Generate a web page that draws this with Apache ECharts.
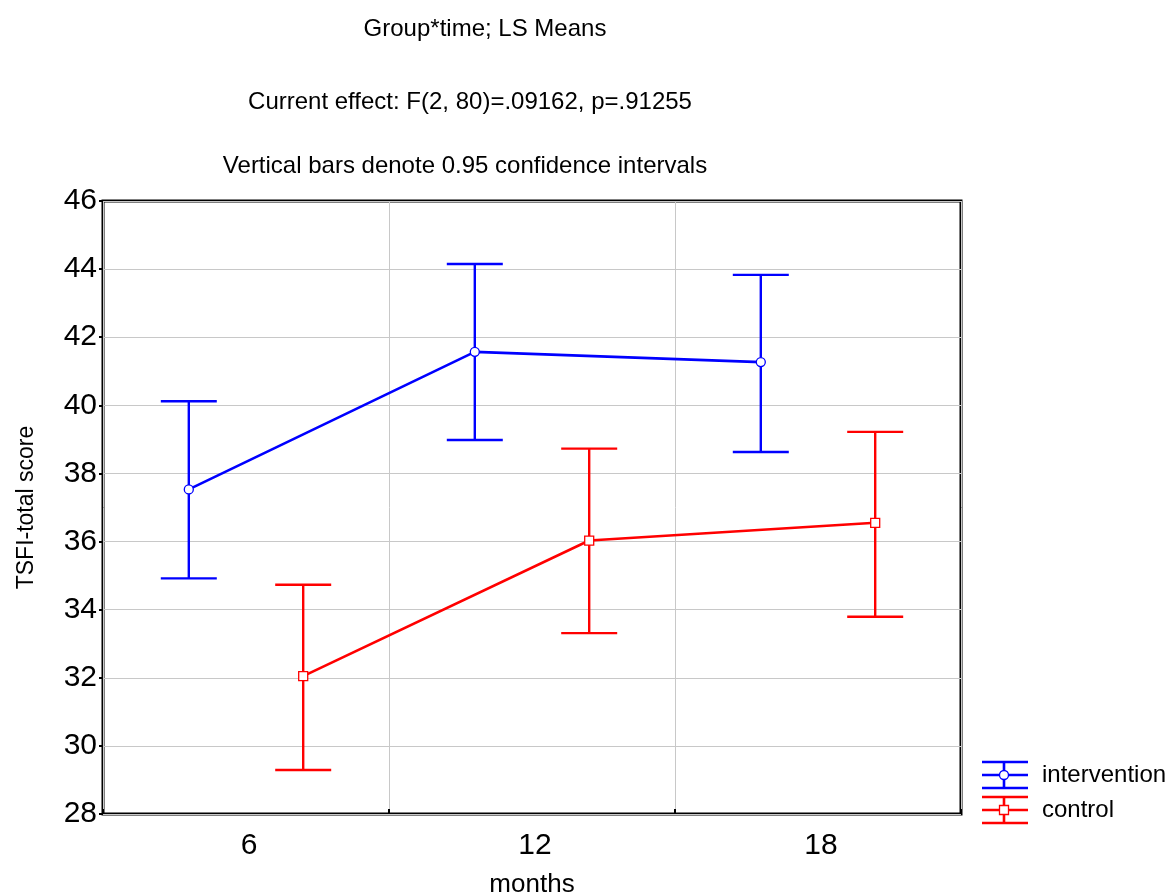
<!DOCTYPE html>
<html>
<head>
<meta charset="utf-8">
<script src="https://cdn.jsdelivr.net/npm/echarts@6/dist/echarts.min.js"></script>
<style>
  html, body { margin: 0; padding: 0; background: #fff; }
  #chart { width: 1175px; height: 893px; }
</style>
</head>
<body>
<div id="chart"></div>
<script>
// LS means with 0.95 confidence intervals, by group and time point
const months = ['6', '12', '18'];
const interventionMean = [37.53, 41.57, 41.27];
const interventionLow  = [34.92, 38.98, 38.63];
const interventionHigh = [40.12, 44.15, 43.83];
const controlMean = [32.05, 36.03, 36.55];
const controlLow  = [29.29, 33.31, 33.79];
const controlHigh = [34.73, 38.73, 39.22];
const yTicks = { min: 28, max: 46, step: 2 };

const FONT = '"Liberation Sans", Arial, sans-serif';
const BLUE = '#0000ff';
const RED = '#ff0000';
// horizontal dodge of each group inside its month slot
const dodge = { intervention: 0.30, control: 0.70 };

function points(mean, offset) {
  return mean.map((v, i) => [i + offset, v]);
}
function bars(low, high, offset) {
  return low.map((v, i) => [i + offset, v, high[i]]);
}

function errorBarRenderer(color) {
  return function (params, api) {
    const x = api.value(0);
    const lo = api.coord([x, api.value(1)]);
    const hi = api.coord([x, api.value(2)]);
    const hw = 28;
    const style = { stroke: color, lineWidth: 2.4, fill: null };
    return {
      type: 'group',
      children: [
        { type: 'line', shape: { x1: lo[0], y1: lo[1], x2: hi[0], y2: hi[1] }, style },
        { type: 'line', shape: { x1: lo[0] - hw, y1: lo[1], x2: lo[0] + hw, y2: lo[1] }, style },
        { type: 'line', shape: { x1: hi[0] - hw, y1: hi[1], x2: hi[0] + hw, y2: hi[1] }, style }
      ]
    };
  };
}

// legend: error-bar glyph + marker + label
function legendItem(y, color, marker, label) {
  const x0 = 982, x1 = 1028, xm = 1004, d = 13;
  const st = { stroke: color, lineWidth: 2.6 };
  const mk = marker === 'circle'
    ? { type: 'circle', shape: { cx: xm, cy: y, r: 4.5 }, style: { fill: '#fff', stroke: color, lineWidth: 1.3 } }
    : { type: 'rect', shape: { x: xm - 4.5, y: y - 4.5, width: 9, height: 9 }, style: { fill: '#fff', stroke: color, lineWidth: 1.3 } };
  return [
    { type: 'line', shape: { x1: x0, y1: y - d, x2: x1, y2: y - d }, style: st },
    { type: 'line', shape: { x1: x0, y1: y, x2: x1, y2: y }, style: st },
    { type: 'line', shape: { x1: x0, y1: y + d, x2: x1, y2: y + d }, style: st },
    { type: 'line', shape: { x1: xm, y1: y - d, x2: xm, y2: y + d }, style: st },
    mk,
    { type: 'text', style: { x: 1042, y: y, text: label, font: '24px ' + FONT, fill: '#000', textVerticalAlign: 'middle' } }
  ];
}

const titleStyle = { fontFamily: FONT, fontSize: 24, fontWeight: 'normal', color: '#000' };

const chart = echarts.init(document.getElementById('chart'), null, { renderer: 'canvas' });
chart.setOption({
  backgroundColor: '#fff',
  animation: false,
  title: [
    { text: 'Group*time; LS Means', left: 480, top: 12, textAlign: 'center', textStyle: titleStyle },
    { text: 'Current effect: F(2, 80)=.09162, p=.91255', left: 465, top: 85, textAlign: 'center', textStyle: titleStyle },
    { text: 'Vertical bars denote 0.95 confidence intervals', left: 460, top: 149, textAlign: 'center', textStyle: titleStyle }
  ],
  grid: {
    left: 103, right: 214, top: 201, bottom: 79,
    outerBoundsMode: 'none', containLabel: false,
    show: true, borderColor: '#000', borderWidth: 3, backgroundColor: 'transparent'
  },
  xAxis: [
    {
      type: 'category',
      data: months,
      boundaryGap: true,
      name: 'months',
      nameLocation: 'middle',
      nameGap: 58,
      nameTextStyle: { fontFamily: FONT, fontSize: 26, color: '#000' },
      axisLine: { show: false },
      axisTick: { show: true, inside: true, length: 5, lineStyle: { color: '#000', width: 2 } },
      axisLabel: { fontFamily: FONT, fontSize: 30, color: '#000', margin: 17, padding: [0, 0, 0, 6] },
      splitLine: { show: true, lineStyle: { color: '#c8c8c8', width: 1 } }
    },
    { type: 'value', min: 0, max: 3, show: false }
  ],
  yAxis: {
    type: 'value',
    min: yTicks.min,
    max: yTicks.max,
    interval: yTicks.step,
    name: 'TSFI-total score',
    nameLocation: 'middle',
    nameGap: 65,
    nameTextStyle: { fontFamily: FONT, fontSize: 23, color: '#000' },
    axisLine: { show: false },
    axisTick: { show: true, length: 4, lineStyle: { color: '#000', width: 2 } },
    axisLabel: { fontFamily: FONT, fontSize: 30, color: '#000', margin: 6 },
    splitLine: { show: true, lineStyle: { color: '#c8c8c8', width: 1 } }
  },
  series: [
    { name: 'intervention-ci', type: 'custom', xAxisIndex: 1, renderItem: errorBarRenderer(BLUE),
      data: bars(interventionLow, interventionHigh, dodge.intervention), z: 2 },
    { name: 'control-ci', type: 'custom', xAxisIndex: 1, renderItem: errorBarRenderer(RED),
      data: bars(controlLow, controlHigh, dodge.control), z: 2 },
    { name: 'intervention', type: 'line', xAxisIndex: 1, data: points(interventionMean, dodge.intervention),
      lineStyle: { color: BLUE, width: 2.6 }, symbol: 'circle', symbolSize: 9,
      itemStyle: { color: '#fff', borderColor: BLUE, borderWidth: 1.3 }, z: 3 },
    { name: 'control', type: 'line', xAxisIndex: 1, data: points(controlMean, dodge.control),
      lineStyle: { color: RED, width: 2.6 }, symbol: 'rect', symbolSize: 9,
      itemStyle: { color: '#fff', borderColor: RED, borderWidth: 1.3 }, z: 3 }
  ],
  graphic: [].concat(
    legendItem(775, BLUE, 'circle', 'intervention'),
    legendItem(810, RED, 'rect', 'control')
  )
});
</script>
</body>
</html>
